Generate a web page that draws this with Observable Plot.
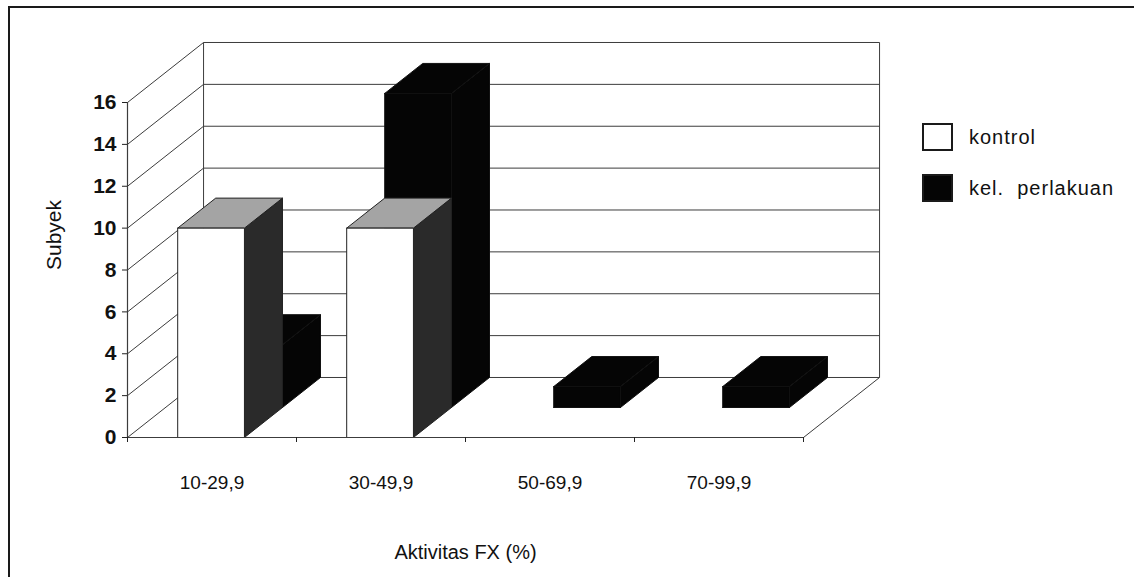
<!DOCTYPE html>
<html>
<head>
<meta charset="utf-8">
<script src="https://cdn.jsdelivr.net/npm/d3@7"></script>
<script src="https://cdn.jsdelivr.net/npm/@observablehq/plot@0.6"></script>
<style>
  html, body { margin: 0; padding: 0; background: #fff; overflow: hidden; }
  #wrap { position: relative; width: 1134px; height: 577px; }
  #border { position: absolute; left: 8px; top: 6px; width: 1200px; height: 700px;
            border: 2px solid #1a1a1a; box-sizing: border-box; pointer-events: none; }
  #chart { position: absolute; left: 0; top: 0; }
  .legend-row { position: absolute; left: 922px; height: 28px; display: flex; align-items: center;
                font-family: "Liberation Sans", Arial, sans-serif; font-size: 20px; color: #111;
                letter-spacing: 1px; white-space: pre; }
  .swatch { width: 31px; height: 28px; box-sizing: border-box; border: 2px solid #1a1a1a; margin-right: 16px; }
</style>
</head>
<body>
<div id="wrap">
  <div id="chart"></div>
  <div id="border"></div>
  <div id="legend"></div>
</div>
<script>
// Subjects per FX-activity class, control group vs. treated group
const categories = ["10-29,9", "30-49,9", "50-69,9", "70-99,9"];
const kontrol = [10, 10, 0, 0];
const perlakuan = [3, 15, 1, 1];
const seriesLabels = ["kontrol", "kel.  perlakuan"];
const seriesColors = ["#ffffff", "#050505"];
const yTicks = [0, 2, 4, 6, 8, 10, 12, 14, 16];
const xLabel = "Aktivitas FX (%)";
const yLabel = "Subyek";

// Oblique 3-D box: depth 0 is the front plane, depth 1 the back wall.
const N = categories.length;
const DEPTH_X = 0.45;   // shift of the back wall, in category units
const DEPTH_Y = 2.866;  // shift of the back wall, in value units
const BAR_X0 = 0.297, BAR_X1 = 0.692; // bar extent inside each category

const proj = (cx, v, d) => ({x: cx + d * DEPTH_X, y: v + d * DEPTH_Y});

// Side, top and front faces of each bar as closed polygons.
function barFaces(values, d0, d1, colors, row) {
  const pts = [];
  values.forEach((v, i) => {
    if (!v) return;
    const a = i + BAR_X0, b = i + BAR_X1;
    const faces = [
      ["side", colors.side, [[b, 0, d0], [b, 0, d1], [b, v, d1], [b, v, d0]]],
      ["top", colors.top, [[a, v, d0], [b, v, d0], [b, v, d1], [a, v, d1]]],
      ["front", colors.front, [[a, 0, d0], [b, 0, d0], [b, v, d0], [a, v, d0]]]
    ];
    for (const [name, fill, corners] of faces) {
      const id = `${row}-${i}-${name}`;
      [...corners, corners[0]].forEach(([cx, val, dep]) => pts.push({id, fill, ...proj(cx, val, dep)}));
    }
  });
  return pts;
}

const backRow = barFaces(perlakuan, 0.5, 1, {side: "#050505", top: "#050505", front: "#050505"}, "p");
const frontRow = barFaces(kontrol, 0, 0.5, {side: "#2a2a2a", top: "#a4a4a4", front: "#ffffff"}, "k");

const gridStroke = "#3c3c3c";
const font = "Liberation Sans, Arial, sans-serif";

const chart = Plot.plot({
  width: 1134,
  height: 577,
  marginLeft: 127,
  marginRight: 331,
  marginTop: 102,
  marginBottom: 140,
  style: {fontFamily: font, background: "transparent", color: "#111"},
  x: {type: "linear", domain: [0, N]},
  y: {type: "linear", domain: [0, 16]},
  color: {type: "identity"},
  marks: [
    // back wall gridlines
    Plot.link(yTicks, {x1: DEPTH_X, x2: N + DEPTH_X, y1: d => d + DEPTH_Y, y2: d => d + DEPTH_Y, stroke: gridStroke, strokeWidth: 1}),
    // side wall gridlines
    Plot.link(yTicks, {x1: 0, x2: DEPTH_X, y1: d => d, y2: d => d + DEPTH_Y, stroke: gridStroke, strokeWidth: 1}),
    // back wall verticals
    Plot.link([0, N], {x1: d => d + DEPTH_X, x2: d => d + DEPTH_X, y1: DEPTH_Y, y2: 16 + DEPTH_Y, stroke: gridStroke, strokeWidth: 1}),
    // floor right edge
    Plot.link([N], {x1: d => d, x2: d => d + DEPTH_X, y1: 0, y2: DEPTH_Y, stroke: gridStroke, strokeWidth: 1}),
    // back row bars, then front row bars
    Plot.line(backRow, {x: "x", y: "y", z: "id", fill: "fill", stroke: "#111", strokeWidth: 1, strokeLinejoin: "miter", curve: "linear"}),
    Plot.line(frontRow, {x: "x", y: "y", z: "id", fill: "fill", stroke: "#222", strokeWidth: 1, strokeLinejoin: "miter", curve: "linear"}),
    // front axes
    Plot.ruleY([0], {x1: 0, x2: N, stroke: gridStroke, strokeWidth: 1.2}),
    Plot.ruleX([0], {y1: 0, y2: 16, stroke: gridStroke, strokeWidth: 1.2}),
    Plot.axisY({ticks: yTicks, tickSize: 5, tickPadding: 6, label: null, fontSize: 21, fontWeight: "bold", stroke: "#222"}),
    Plot.axisX({ticks: d3.range(N + 1), tickSize: 5, tickFormat: () => "", label: null, stroke: "#222"}),
    // category labels
    Plot.text(categories, {x: (d, i) => i + 0.5, y: 0, dy: 45, text: d => d, fontSize: 19, fill: "#111"}),
    // axis titles
    Plot.text([xLabel], {x: N / 2, y: 0, dy: 115, text: d => d, fontSize: 20, fill: "#111"}),
    Plot.text([yLabel], {frameAnchor: "left", dx: -73, rotate: -90, text: d => d, fontSize: 21, fill: "#111"})
  ]
});
document.getElementById("chart").appendChild(chart);

// legend
const legend = document.getElementById("legend");
const rowTops = [123, 174];
seriesLabels.forEach((label, i) => {
  const row = document.createElement("div");
  row.className = "legend-row";
  row.style.top = rowTops[i] + "px";
  const sw = document.createElement("div");
  sw.className = "swatch";
  sw.style.background = seriesColors[i];
  const tx = document.createElement("span");
  tx.textContent = label;
  row.appendChild(sw);
  row.appendChild(tx);
  legend.appendChild(row);
});
</script>
</body>
</html>
